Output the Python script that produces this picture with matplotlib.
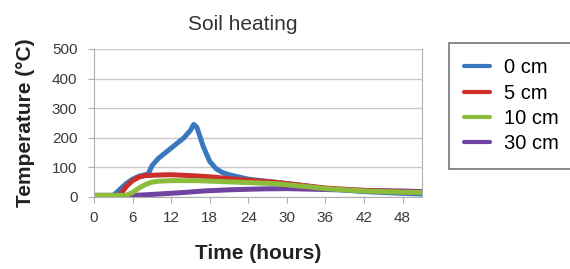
import matplotlib.pyplot as plt

# data (hours, °C)
t_0cm = [0, 3, 4, 5, 6, 7, 8, 8.5, 9, 10, 12, 14, 15, 15.5, 16, 17, 18, 19, 20, 21, 24, 28, 32, 36, 42, 48, 51]
y_0cm = [5, 5, 25, 45, 60, 70, 75, 80, 105, 130, 165, 200, 225, 245, 235, 170, 120, 95, 82, 75, 60, 50, 40, 28, 18, 12, 10]

t_5cm = [0, 4, 5, 6, 7, 8, 10, 12, 15, 18, 22, 28, 32, 36, 42, 48, 51]
y_5cm = [5, 5, 35, 55, 67, 72, 74, 75, 72, 68, 60, 50, 40, 30, 22, 17, 15]

t_10cm = [0, 5, 6, 7, 8, 9, 10, 12, 16, 22, 28, 33, 36, 42, 48, 51]
y_10cm = [5, 5, 15, 30, 42, 50, 53, 55, 55, 50, 45, 35, 28, 20, 16, 15]

t_30cm = [0, 6, 8, 11, 14, 17, 21, 26, 30, 36, 42, 48, 51]
y_30cm = [5, 5, 7, 11, 15, 20, 24, 27, 28, 25, 22, 20, 18]

labels = ["0 cm", "5 cm", "10 cm", "30 cm"]
colors = ["#3a78bd", "#cc2f2a", "#8cbc3c", "#7043a0"]
x_ticks = [0, 6, 12, 18, 24, 30, 36, 42, 48]
y_ticks = [0, 100, 200, 300, 400, 500]

plt.rcParams["font.family"] = ["Liberation Sans", "DejaVu Sans"]


def main() -> None:
    fig = plt.figure(figsize=(5.7, 2.69), dpi=100)
    ax = fig.add_axes([0.165, 0.268, 0.575, 0.55])

    series = [(t_0cm, y_0cm), (t_5cm, y_5cm), (t_10cm, y_10cm), (t_30cm, y_30cm)]
    handles = []
    for (t, y), lab, c in zip(series, labels, colors):
        (h,) = ax.plot(t, y, color=c, lw=3.6, label=lab, solid_capstyle="round", solid_joinstyle="round")
        handles.append(h)
    handles[3].set_zorder(1.5)

    ax.set_xlim(0, 51)
    ax.set_ylim(0, 500)
    ax.set_xticks(x_ticks)
    ax.set_yticks(y_ticks)
    ax.grid(axis="y", color="#c8c8c8", lw=1)
    ax.set_axisbelow(True)
    for side in ("left", "bottom", "right"):
        ax.spines[side].set_color("#b0b0b0")
    ax.spines["top"].set_visible(False)
    ax.tick_params(colors="#b0b0b0", labelcolor="#3a3a3a", labelsize=11, length=4)
    ax.tick_params(axis="y", pad=8)
    ax.tick_params(axis="x", pad=6)

    ax.set_title("Soil heating", fontsize=15, color="#333333", pad=14, x=0.455)
    ax.set_ylabel("Temperature (°C)", fontsize=15, fontweight="bold", color="#222222", labelpad=12)
    ax.set_xlabel("Time (hours)", fontsize=15, fontweight="bold", color="#222222", labelpad=14)

    leg = fig.legend(handles, labels, loc="upper left", bbox_to_anchor=(0.788, 0.84),
                     fontsize=14.5, frameon=True, fancybox=False, handlelength=1.3,
                     handletextpad=0.65, labelspacing=0.32, borderpad=0.75, borderaxespad=0)
    leg.get_frame().set_edgecolor("#555555")
    leg.get_frame().set_linewidth(1.2)
    for line in leg.get_lines():
        line.set_linewidth(3)

    fig.savefig("out.png", dpi=100)
    plt.close(fig)


if __name__ == "__main__":
    main()
